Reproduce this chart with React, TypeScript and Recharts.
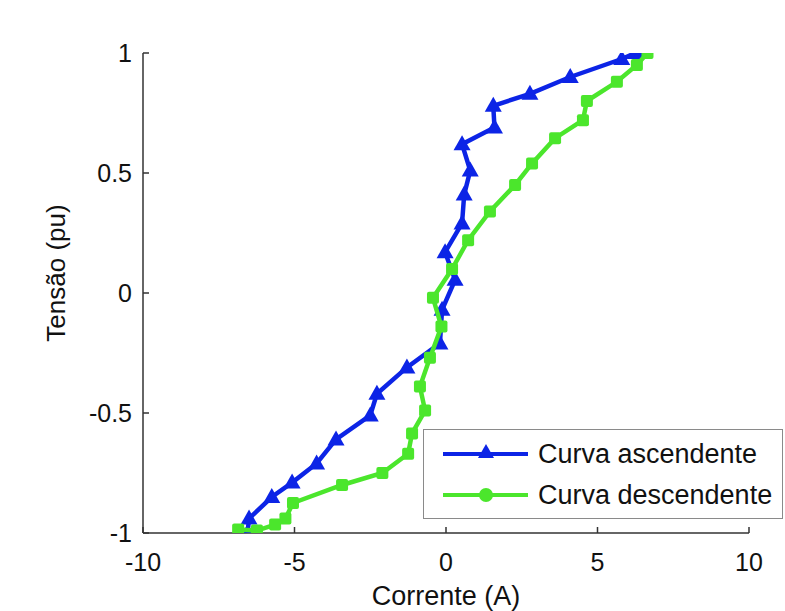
import React from "react";
import {
  ScatterChart,
  Scatter,
  XAxis,
  YAxis,
  Legend,
} from "recharts";

const ascCurrent = [-6.55, -6.5, -5.75, -5.08, -4.27, -3.63, -2.5, -2.28, -1.29, -0.2, -0.13, 0.3, -0.03, 0.53, 0.6, 0.8, 0.53, 1.6, 1.56, 2.77, 4.1, 5.8, 6.25, 6.45];
const ascVoltage = [-1.0, -0.94, -0.85, -0.79, -0.71, -0.61, -0.51, -0.42, -0.31, -0.21, -0.07, 0.055, 0.17, 0.29, 0.41, 0.51, 0.62, 0.69, 0.78, 0.83, 0.9, 0.975, 1.0, 1.0];

const descCurrent = [6.65, 6.3, 5.64, 4.65, 4.52, 3.6, 2.84, 2.28, 1.45, 0.73, 0.2, -0.43, -0.15, -0.53, -0.86, -0.69, -1.12, -1.25, -2.1, -3.43, -5.05, -5.3, -5.64, -6.24, -6.86];
const descVoltage = [1.0, 0.95, 0.88, 0.8, 0.72, 0.645, 0.54, 0.45, 0.34, 0.22, 0.1, -0.02, -0.14, -0.27, -0.39, -0.49, -0.585, -0.67, -0.75, -0.8, -0.875, -0.94, -0.965, -0.99, -0.985];

const xTicks = [-10, -5, 0, 5, 10];
const yTicks = [-1, -0.5, 0, 0.5, 1];

const BLUE = "#0c24e6";
const GREEN = "#4be62c";
const AXIS = "#333333";
const FONT = "'Liberation Sans', Arial, sans-serif";

const ascData = ascCurrent.map((x, i) => ({ x, y: ascVoltage[i] }));
const descData = descCurrent.map((x, i) => ({ x, y: descVoltage[i] }));

// MATLAB-ish markers, a bit larger than recharts defaults
function Triangle(props: any) {
  const { cx, cy } = props;
  if (cx == null || cy == null) return null;
  return (
    <polygon
      points={`${cx},${cy - 9} ${cx + 8.5},${cy + 6} ${cx - 8.5},${cy + 6}`}
      fill={BLUE}
    />
  );
}

function Square(props: any) {
  const { cx, cy } = props;
  if (cx == null || cy == null) return null;
  return <rect x={cx - 6} y={cy - 6} width={12} height={12} rx={2} fill={GREEN} />;
}

function renderLegend() {
  const rows = [
    { label: "Curva ascendente", color: BLUE, marker: "triangle" },
    { label: "Curva descendente", color: GREEN, marker: "circle" },
  ];
  return (
    <div
      style={{
        width: 358,
        height: 88,
        border: "1px solid #8a8a8a",
        background: "#fff",
        fontFamily: FONT,
        fontSize: 27,
        color: "#111",
        position: "relative",
      }}
    >
      {rows.map((r, i) => (
        <div
          key={r.label}
          style={{
            position: "absolute",
            left: 0,
            top: 4 + i * 41,
            height: 40,
            display: "flex",
            alignItems: "center",
          }}
        >
          <svg width={114} height={40}>
            <line x1={19} y1={20} x2={104} y2={20} stroke={r.color} strokeWidth={4} />
            {r.marker === "triangle" ? (
              <polygon points="62,10 70,24 54,24" fill={r.color} />
            ) : (
              <circle cx={62} cy={20} r={7} fill={r.color} />
            )}
          </svg>
          <span style={{ whiteSpace: "nowrap" }}>{r.label}</span>
        </div>
      ))}
    </div>
  );
}

function YLabel(props: any) {
  const { viewBox } = props;
  const cx = 56;
  const cy = viewBox.y + viewBox.height / 2 - 20;
  return (
    <text
      x={cx}
      y={cy}
      transform={`rotate(-90, ${cx}, ${cy})`}
      textAnchor="middle"
      dominantBaseline="central"
      fontFamily={FONT}
      fontSize={26}
      fill="#111"
    >
      Tensão (pu)
    </text>
  );
}

export default function App() {
  return (
    <div style={{ position: "absolute", left: 0, top: 0, background: "#fff" }}>
      <ScatterChart
        width={785}
        height={611}
        margin={{ top: 53, right: 36, bottom: 0, left: 0 }}
      >
        <XAxis
          type="number"
          dataKey="x"
          domain={[-10, 10]}
          ticks={xTicks}
          allowDataOverflow
          height={78}
          tickSize={-6}
          tickMargin={26}
          stroke={AXIS}
          strokeWidth={1.5}
          tick={{ fontSize: 25, fontFamily: FONT, fill: "#111" }}
          label={{
            value: "Corrente (A)",
            position: "insideBottom",
            offset: 6,
            fontSize: 27,
            fontFamily: FONT,
            fill: "#111",
          }}
        />
        <YAxis
          type="number"
          dataKey="y"
          domain={[-1, 1]}
          ticks={yTicks}
          allowDataOverflow
          width={143}
          tickSize={-6}
          tickMargin={17}
          stroke={AXIS}
          strokeWidth={1.5}
          tick={{ fontSize: 25, fontFamily: FONT, fill: "#111" }}
          label={<YLabel />}
        />
        <Legend
          layout="horizontal"
          verticalAlign="middle"
          align="center"
          content={renderLegend}
          wrapperStyle={{ left: 423, top: 429, width: 360, height: 90 }}
        />
        <Scatter
          name="Curva ascendente"
          data={ascData}
          fill={BLUE}
          shape={<Triangle />}
          line={{ stroke: BLUE, strokeWidth: 4.5 }}
          lineJointType="linear"
          isAnimationActive={false}
        />
        <Scatter
          name="Curva descendente"
          data={descData}
          fill={GREEN}
          shape={<Square />}
          line={{ stroke: GREEN, strokeWidth: 4.5 }}
          lineJointType="linear"
          isAnimationActive={false}
        />
      </ScatterChart>
    </div>
  );
}
